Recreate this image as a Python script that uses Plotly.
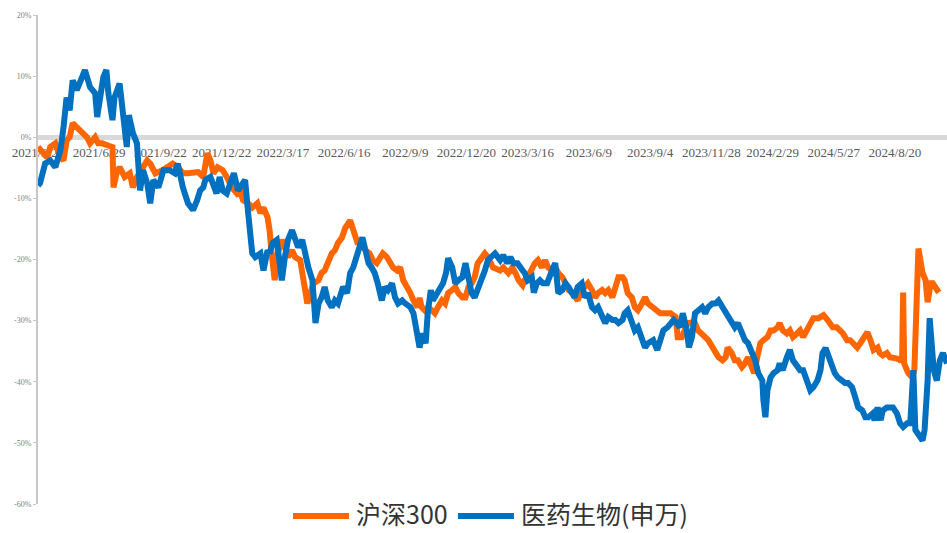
import plotly.graph_objects as go

# Trading-day index (0 = 2021/3/29) and cumulative return (%)
hs300_day = [
    0, 4, 9, 12, 17, 22, 25, 28, 31, 34,
    38, 41, 44, 48, 51, 56, 59, 63, 68, 73,
    74, 77, 80, 85, 90, 93, 97, 102, 107, 110,
    115, 122, 126, 132, 137, 142, 147, 151, 157, 162,
    166, 169, 172, 176, 181, 185, 190, 195, 198, 201,
    206, 210, 215, 218, 221, 225, 227, 229, 232, 235,
    239, 242, 245, 249, 252, 257, 260, 264, 267, 270,
    275, 278, 281, 284, 288, 291, 294, 298, 301, 306,
    311, 313, 316, 321, 325, 328, 332, 335, 338, 342,
    345, 348, 352, 355, 358, 362, 365, 368, 372, 374,
    376, 379, 382, 386, 389, 392, 396, 399, 402, 406,
    409, 412, 416, 419, 422, 425, 428, 431, 435, 438,
    441, 446, 453, 456, 461, 465, 468, 471, 475, 477,
    480, 484, 487, 490, 494, 497, 500, 504, 507, 510,
    514, 517, 520, 524, 526, 529, 533, 536, 539, 543,
    546, 549, 553, 556, 559, 563, 566, 569, 573, 575,
    578, 582, 585, 588, 592, 595, 598, 602, 605, 610,
    615, 620, 625, 627, 631, 634, 637, 641, 644, 647,
    651, 654, 657, 661, 664, 667, 671, 674, 676, 680,
    683, 686, 690, 693, 696, 700, 702, 705, 708, 711,
    715, 718, 721, 725, 727, 730, 734, 737, 740, 744,
    747, 750, 754, 757, 760, 765, 770, 774, 776, 779,
    783, 786, 789, 793, 796, 799, 803, 806, 809, 813,
    816, 819, 823, 825, 828, 832, 835, 838, 842, 845,
    847, 848, 849, 853, 857, 859, 863, 867, 870, 872,
    875, 877, 881, 883,
]
hs300_pct = [
    -1.6, -2.5, -3.3, -1.6, -1.0, -3.3, -3.8, -0.5, 0.0, 2.3,
    1.6, 1.1, 0.7, 0.0, -1.0, 0.0, -1.0, -1.0, -1.3, -1.6,
    -8.2, -5.9, -4.9, -6.5, -5.9, -8.2, -6.5, -4.9, -3.8, -4.3,
    -5.9, -5.4, -4.9, -4.3, -4.9, -5.9, -5.9, -5.9, -5.7, -6.5,
    -2.6, -3.8, -5.9, -4.9, -5.4, -6.5, -8.2, -9.2, -8.7, -10.3,
    -10.8, -11.5, -10.8, -12.4, -11.5, -13.1, -15.2, -19.0, -23.4, -19.0,
    -16.8, -18.0, -19.6, -18.5, -19.6, -20.1, -23.4, -27.2, -25.5, -23.9,
    -23.4, -22.2, -21.8, -20.6, -19.0, -18.5, -17.3, -16.4, -14.9, -13.6,
    -15.7, -17.2, -17.3, -18.5, -19.0, -20.1, -20.6, -19.6, -19.0, -19.6,
    -20.6, -21.3, -21.8, -21.3, -23.4, -24.5, -25.5, -26.7, -27.8, -26.3,
    -27.8, -28.3, -27.8, -28.3, -28.8, -27.8, -26.7, -27.2, -25.5, -25.0,
    -24.5, -25.5, -26.2, -26.2, -24.5, -23.9, -22.9, -20.6, -19.6, -19.0,
    -19.6, -21.3, -21.8, -21.3, -22.2, -21.3, -22.2, -23.4, -24.2, -23.4,
    -22.9, -21.3, -20.6, -20.1, -21.3, -20.1, -21.3, -21.8, -21.3, -22.2,
    -22.9, -23.9, -25.0, -25.5, -26.2, -26.7, -25.0, -24.5, -23.9, -25.0,
    -26.2, -25.5, -25.0, -25.5, -25.0, -26.2, -24.5, -22.9, -22.9, -23.4,
    -25.5, -26.2, -27.8, -28.3, -27.2, -26.2, -27.2, -27.8, -28.3, -28.8,
    -28.8, -28.8, -29.4, -32.7, -32.7, -31.6, -30.4, -30.3, -30.4, -31.6,
    -32.1, -32.7, -33.2, -34.4, -34.8, -36.0, -36.5, -36.0, -34.4, -35.3,
    -36.5, -36.5, -37.6, -37.0, -36.0, -37.6, -38.6, -36.0, -33.7, -33.2,
    -32.7, -31.6, -31.6, -31.1, -30.4, -31.6, -32.1, -31.6, -32.7, -32.1,
    -31.6, -32.7, -31.6, -30.4, -29.6, -29.6, -29.1, -29.9, -30.4, -31.1,
    -31.1, -31.6, -32.1, -33.2, -33.2, -33.7, -34.4, -33.7, -32.7, -31.9,
    -33.2, -34.8, -34.4, -35.3, -35.7, -35.3, -36.0, -36.0, -36.2, -36.5,
    -36.5, -25.4, -37.0, -38.6, -39.3, -38.1, -18.2, -22.2, -23.4, -27.0,
    -23.9, -23.9, -25.0, -25.4,
]

pharma_day = [
    0, 2, 7, 12, 17, 22, 25, 28, 31, 34,
    38, 41, 46, 51, 56, 58, 61, 64, 67, 69,
    73, 75, 80, 83, 87, 89, 93, 97, 100, 103,
    107, 110, 113, 118, 123, 129, 134, 137, 142, 147,
    152, 156, 159, 162, 164, 169, 172, 175, 178, 181,
    185, 188, 192, 196, 200, 203, 206, 210, 213, 218,
    221, 225, 227, 230, 234, 237, 239, 242, 245, 249,
    252, 255, 259, 262, 265, 269, 272, 275, 278, 281,
    284, 288, 291, 294, 299, 303, 306, 309, 313, 316,
    318, 321, 324, 327, 330, 333, 337, 340, 343, 347,
    350, 353, 357, 360, 365, 368, 370, 373, 374, 377,
    380, 382, 385, 387, 391, 394, 397, 400, 402, 406,
    409, 412, 416, 419, 422, 425, 428, 431, 435, 438,
    441, 445, 448, 453, 456, 460, 463, 466, 470, 475,
    477, 480, 484, 486, 489, 492, 495, 499, 502, 505,
    507, 510, 514, 517, 520, 524, 526, 529, 533, 536,
    539, 543, 546, 549, 553, 556, 559, 563, 566, 569,
    573, 575, 578, 582, 585, 588, 592, 595, 598, 603,
    607, 610, 613, 617, 620, 623, 626, 629, 632, 636,
    638, 641, 644, 647, 651, 654, 657, 661, 664, 667,
    671, 674, 676, 680, 683, 686, 690, 693, 696, 700,
    703, 706, 710, 711, 713, 715, 718, 721, 725, 727,
    730, 734, 737, 740, 744, 747, 750, 754, 757, 760,
    764, 767, 769, 772, 775, 778, 781, 784, 788, 791,
    794, 798, 801, 804, 808, 811, 814, 818, 820, 823,
    826, 828, 832, 835, 838, 842, 845, 848, 852, 855,
    858, 860, 863, 867, 869, 872, 874, 877, 878, 881,
    884, 887, 891,
]
pharma_pct = [
    -7.9, -7.5, -4.3, -3.8, -4.9, -2.1, 1.6, 6.5, 4.4, 9.3,
    7.7, 8.8, 11.0, 8.2, 7.2, 3.3, 7.2, 9.8, 11.0, 7.2,
    2.8, 6.5, 8.8, 3.3, -1.6, 3.6, 0.7, -1.0, -8.7, -5.4,
    -7.5, -10.8, -7.0, -8.2, -5.4, -5.4, -5.9, -4.3, -8.2, -10.8,
    -11.9, -10.3, -8.7, -8.2, -7.0, -6.5, -8.2, -9.2, -6.5, -8.7,
    -9.2, -7.5, -5.9, -8.7, -7.5, -7.0, -12.4, -19.0, -19.6, -19.0,
    -21.8, -18.5, -19.0, -17.3, -16.8, -21.3, -23.4, -19.6, -16.8, -15.2,
    -16.8, -18.0, -16.8, -19.6, -21.3, -23.4, -30.4, -27.2, -26.2, -24.5,
    -26.7, -27.8, -26.7, -27.2, -24.5, -25.5, -22.2, -21.3, -19.0, -16.8,
    -16.4, -18.5, -20.6, -21.3, -22.2, -23.9, -26.7, -24.5, -25.0, -23.9,
    -26.2, -27.2, -26.7, -27.2, -27.8, -28.8, -31.1, -33.2, -34.4, -32.1,
    -33.7, -28.8, -25.0, -26.7, -25.5, -24.5, -23.9, -22.2, -19.8, -21.3,
    -23.9, -23.4, -22.9, -20.6, -22.9, -25.5, -26.2, -25.0, -22.9, -21.8,
    -20.1, -19.6, -19.0, -20.1, -19.3, -20.6, -19.6, -20.6, -20.6, -21.8,
    -22.2, -23.4, -22.9, -25.4, -23.9, -23.4, -23.9, -23.9, -22.2, -21.3,
    -20.6, -25.5, -25.0, -23.9, -24.5, -25.5, -26.2, -24.5, -23.9, -26.2,
    -25.5, -27.8, -28.3, -27.8, -29.4, -30.4, -29.4, -29.9, -29.9, -30.4,
    -29.9, -28.8, -28.3, -30.4, -31.6, -31.1, -32.7, -34.4, -33.7, -33.2,
    -34.8, -33.2, -31.6, -31.1, -30.4, -29.9, -30.4, -31.1, -28.8, -31.6,
    -34.4, -32.7, -28.8, -28.3, -27.8, -28.8, -27.8, -27.2, -27.2, -26.7,
    -27.8, -28.3, -28.8, -29.9, -31.1, -30.4, -32.1, -33.2, -33.7, -35.3,
    -36.5, -38.6, -39.8, -43.0, -45.8, -41.4, -39.3, -38.6, -38.1, -37.0,
    -38.1, -36.0, -34.8, -36.5, -37.6, -38.1, -38.1, -39.8, -41.4, -40.9,
    -39.8, -38.1, -35.3, -34.5, -36.0, -37.0, -38.6, -39.3, -39.8, -40.2,
    -40.2, -40.9, -42.5, -44.2, -44.7, -45.8, -45.8, -45.2, -46.3, -44.2,
    -46.3, -44.7, -44.2, -44.2, -44.2, -45.2, -46.8, -47.4, -46.8, -46.8,
    -38.1, -47.9, -48.7, -49.6, -47.9, -39.8, -29.6, -34.4, -38.1, -39.8,
    -36.5, -35.3, -37.0,
]

series_names = ["沪深300", "医药生物(申万)"]
series_colors = ["#FF6600", "#0070C0"]

x_tick_days = [0, 60, 120, 180, 240, 300, 360, 420, 480, 540, 600, 660, 720, 780, 840]
x_tick_labels = ["2021/3/29", "2021/6/29", "2021/9/22", "2021/12/22", "2022/3/17",
                 "2022/6/16", "2022/9/9", "2022/12/20", "2023/3/16", "2023/6/9",
                 "2023/9/4", "2023/11/28", "2024/2/29", "2024/5/27", "2024/8/20"]
y_tick_vals = [-60, -50, -40, -30, -20, -10, 0, 10, 20]
y_tick_labels = ["-60%", "-50%", "-40%", "-30%", "-20%", "-10%", "0%", "10%", "20%"]

assert len(hs300_day) == len(hs300_pct)
assert len(pharma_day) == len(pharma_pct)

W, H = 947, 533
LEFT, TOP = 38, 15
PAPER_W = W - LEFT
PAPER_H = H - TOP            # paper spans from y=15 px down to the bottom edge
PLOT_BOTTOM = 504            # pixel row of the -60% level
ZERO_ROW = 137               # pixel row of the 0% level


def px(xpix):
    return (xpix - LEFT) / PAPER_W


def py(ypix):
    return (H - ypix) / PAPER_H


fig = go.Figure()
fig.add_trace(go.Scatter(x=hs300_day, y=hs300_pct, mode="lines", name=series_names[0],
                         line=dict(color=series_colors[0], width=6)))
fig.add_trace(go.Scatter(x=pharma_day, y=pharma_pct, mode="lines", name=series_names[1],
                         line=dict(color=series_colors[1], width=6)))

# legend drawn below the plot (line sample + label for each series)
legend_row = 513
legend_entries = [(293, 349, 355), (458, 514, 520)]
for (x0, x1, xt), name, color in zip(legend_entries, series_names, series_colors):
    fig.add_shape(type="line", xref="paper", yref="paper",
                  x0=px(x0), x1=px(x1), y0=py(legend_row + 3), y1=py(legend_row + 3),
                  line=dict(color=color, width=6))
    fig.add_annotation(xref="paper", yref="paper", x=px(xt), y=py(legend_row),
                       xanchor="left", yanchor="middle", showarrow=False, text=name,
                       borderpad=0,
                       font=dict(family="Noto Sans CJK SC", size=25, color="#333333"))

fig.update_layout(
    width=W, height=H,
    margin=dict(l=LEFT, r=0, t=TOP, b=0, autoexpand=False),
    paper_bgcolor="white", plot_bgcolor="white",
    showlegend=False,
    xaxis=dict(range=[0, 891], tickmode="array", tickvals=x_tick_days, ticktext=x_tick_labels,
               anchor="free", position=py(ZERO_ROW), automargin=False,
               showline=True, linecolor="#d9d9d9", linewidth=5,
               ticks="", showgrid=False, zeroline=False, layer="below traces",
               ticklabelstandoff=1,
               tickfont=dict(family="Liberation Serif", size=13, color="#595959")),
    yaxis=dict(range=[-60, 20], domain=[py(PLOT_BOTTOM), 1], automargin=False,
               tickmode="array", tickvals=y_tick_vals, ticktext=y_tick_labels,
               showline=True, linecolor="#c8c8c8", linewidth=2, ticks="outside", ticklen=3,
               tickcolor="#c8c8c8", showgrid=False, zeroline=False,
               tickfont=dict(family="Liberation Serif", size=8, color="#7f7f7f")),
)

fig.write_html("out.html", config={"displayModeBar": False},
               post_script="document.body.style.margin='0';")
